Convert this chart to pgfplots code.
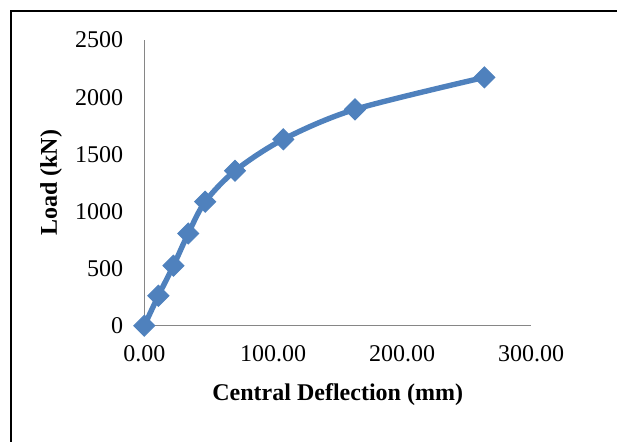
\documentclass[border=0pt]{standalone}
\usepackage{fontspec}
\setmainfont{Liberation Serif}
\usepackage{pgfplots}
\pgfplotsset{compat=1.18}
\definecolor{seriesblue}{RGB}{79,129,189}
\definecolor{axisgray}{RGB}{134,134,134}

\begin{document}
\begin{tikzpicture}
  % page extent and the chart frame
  \useasboundingbox (0,0) rectangle (308.5pt,-220.5pt);
  \draw[line width=1pt] (5.5pt,-240pt) -- (5.5pt,-5.5pt) -- (330pt,-5.5pt);

  \begin{axis}[
    at={(72.15pt,-162.85pt)}, anchor=south west,
    scale only axis,
    width=193.4pt, height=142.85pt,
    xmin=0, xmax=300, ymin=0, ymax=2500,
    axis x line*=bottom, axis y line*=left,
    axis line style={draw=axisgray, line width=0.6pt, -},
    xtick={0,100,200,300},
    ytick={0,500,1000,1500,2000,2500},
    major tick length=0pt,
    clip=false,
    font=\fontsize{12}{14}\selectfont,
    /pgf/number format/assume math mode=true,
    x tick label style={/pgf/number format/.cd, fixed, fixed zerofill, precision=2, /tikz/.cd, anchor=north, yshift=-6.5pt},
    y tick label style={/pgf/number format/.cd, fixed, 1000 sep={}, /tikz/.cd, anchor=east, xshift=-7pt},
    xlabel={\textbf{Central Deflection (mm)}},
    ylabel={\textbf{Load (kN)}},
    xlabel style={at={(axis description cs:0.5,-0.2422)}, anchor=center},
    ylabel style={at={(axis description cs:-0.2410,0.5)}, anchor=center},
  ]
    \addplot[seriesblue, line width=2.7pt, smooth,
             mark=square*, mark size=3.7pt,
             mark options={rotate=45, line width=0.5pt, fill=seriesblue, draw=seriesblue}]
      coordinates {
        (0,0) (10.9,262) (22.6,525) (34.1,807) (47.2,1085)
        (70.4,1356) (107.8,1631) (163.4,1893) (263.8,2173)
      };
  \end{axis}
\end{tikzpicture}
\end{document}
